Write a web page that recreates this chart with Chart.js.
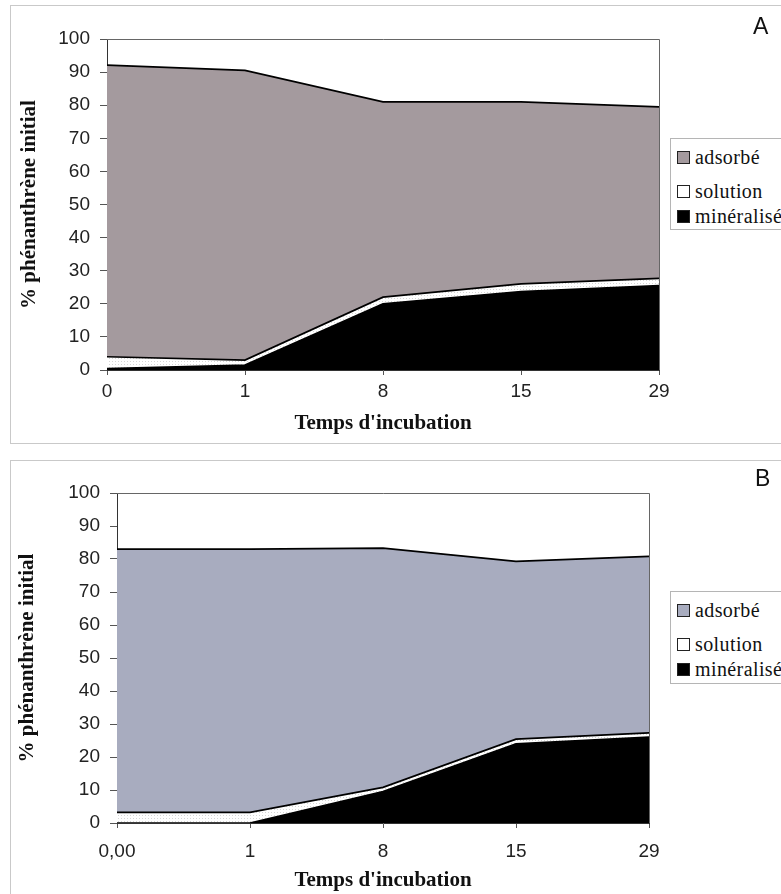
<!DOCTYPE html>
<html lang="fr"><head><meta charset="utf-8">
<script src="https://cdn.jsdelivr.net/npm/chart.js@4"></script>
<style>
body{margin:0;width:781px;height:894px;position:relative;background:#fff;overflow:hidden;}
.frame{position:absolute;border:1px solid #c9c9c9;}
.cv{position:absolute;left:0;}
.legend{position:absolute;border:1px solid #b5b5b5;background:#fff;font-family:"Liberation Serif",serif;font-size:20px;color:#111;letter-spacing:0.4px;}
.item{position:absolute;left:6px;white-space:nowrap;line-height:22px;font-family:"Liberation Serif",serif;}
.mk{display:inline-block;width:11px;height:11px;border:1px solid #222;margin-right:5px;vertical-align:baseline;}
.tag{position:absolute;font-family:"Liberation Sans",Arial,sans-serif;font-size:23px;line-height:1;color:#111;}
</style>
</head><body>
<div class="frame" style="left:10px;top:5px;width:800px;height:437px;"></div>
<div class="frame" style="left:10px;top:460px;width:800px;height:500px;"></div>
<div class="cv" style="top:0;width:781px;height:445px;"><canvas id="cA"></canvas></div>
<div class="cv" style="top:445px;width:781px;height:449px;"><canvas id="cB"></canvas></div>
<div class="tag" style="left:753px;top:15px;">A</div>
<div class="tag" style="left:755px;top:467px;">B</div>
<div class="legend" id="legA" style="left:670px;top:138px;width:130px;height:90px;"></div>
<div class="legend" id="legB" style="left:670px;top:591px;width:130px;height:91px;"></div>
<script>
// Panel A data
const categoriesA = ['0', '1', '8', '15', '29'];
const mineraliseA = [0.4, 1.5, 20, 23.7, 25.5];
const solutionA   = [3.6, 1.5, 2, 2.3, 2.2];
const adsorbeA    = [88.1, 87.5, 59, 55, 51.8];

// Panel B data
const categoriesB = ['0,00', '1', '8', '15', '29'];
const mineraliseB = [0, 0, 9.5, 24, 26];
const solutionB   = [3.2, 3.2, 1.3, 1.4, 1.3];
const adsorbeB    = [79.8, 79.8, 72.5, 53.9, 53.5];

const yTicks = [0, 10, 20, 30, 40, 50, 60, 70, 80, 90, 100];
const seriesNames = ['min\u00e9ralis\u00e9', 'solution', 'adsorb\u00e9'];
const xTitle = "Temps d'incubation";
const yTitle = '% ph\u00e9nanthr\u00e8ne initial';

const colMineral = '#000000';
const colSolution = '#ffffff';
const colAdsA = '#a49a9e';
const colAdsB = '#a8acbf';

function dotPattern() {
  const c = document.createElement('canvas');
  c.width = 3; c.height = 3;
  const x = c.getContext('2d');
  x.fillStyle = '#ffffff'; x.fillRect(0, 0, 3, 3);
  x.fillStyle = '#d6d6d6'; x.fillRect(1, 1, 1, 1);
  return x.createPattern(c, 'repeat');
}

const frameBox = {
  id: 'frameBox',
  afterDatasetsDraw(chart) {
    const a = chart.chartArea, ctx = chart.ctx;
    ctx.save();
    ctx.strokeStyle = '#666';
    ctx.lineWidth = 1;
    ctx.beginPath();
    ctx.moveTo(a.left, a.top + 0.5);
    ctx.lineTo(a.right + 0.5, a.top + 0.5);
    ctx.lineTo(a.right + 0.5, a.bottom);
    ctx.stroke();
    ctx.restore();
  }
};

function makeChart(id, cats, mineral, solution, adsorbe, adsColor, g) {
  const ds = [
    {label: seriesNames[0], data: mineral, backgroundColor: colMineral, legendColor: colMineral, fill: 'origin'},
    {label: seriesNames[1], data: solution, backgroundColor: dotPattern(), legendColor: colSolution, fill: '-1'},
    {label: seriesNames[2], data: adsorbe, backgroundColor: adsColor, legendColor: adsColor, fill: '-1'}
  ].map(d => Object.assign(d, {borderColor: '#000', borderWidth: 1.7, pointRadius: 0, tension: 0}));
  return new Chart(document.getElementById(id), {
    type: 'line',
    data: {labels: cats, datasets: ds},
    options: {
      responsive: true, maintainAspectRatio: false, animation: false,
      events: [],
      layout: {padding: {top: g.top, right: g.right, left: 0, bottom: 0}},
      plugins: {legend: {display: false}, tooltip: {enabled: false}},
      scales: {
        x: {
          type: 'category', offset: false,
          grid: {display: true, drawOnChartArea: false, drawTicks: true, tickLength: 5, tickColor: '#555'},
          border: {display: true, color: '#333', width: 1},
          ticks: {font: {family: 'Liberation Sans', size: 19}, color: '#222', padding: g.xpad, autoSkip: false, maxRotation: 0},
          title: {display: true, text: xTitle, color: '#111', font: {family: 'Liberation Serif', size: 21, weight: 'bold'}, padding: {top: 0, bottom: g.xtpad}},
          afterFit: s => { s.height = g.xh; }
        },
        y: {
          stacked: true, min: 0, max: 100,
          afterBuildTicks: s => { s.ticks = yTicks.map(v => ({value: v})); },
          grid: {display: true, drawOnChartArea: false, drawTicks: true, tickLength: 7, tickColor: '#555'},
          border: {display: true, color: '#333', width: 1},
          ticks: {font: {family: 'Liberation Sans', size: 19}, color: '#222', padding: 10},
          title: {display: true, text: yTitle, color: '#111', font: {family: 'Liberation Serif', size: 21, weight: 'bold'}, padding: {top: g.ytpad, bottom: 0}},
          afterFit: s => { s.width = g.yw; }
        }
      }
    },
    plugins: [frameBox]
  });
}

const chartA = makeChart('cA', categoriesA, mineraliseA, solutionA, adsorbeA, colAdsA,
  {top: 39, right: 122, xh: 75, yw: 107, xpad: 5, xtpad: 9, ytpad: 17});
const chartB = makeChart('cB', categoriesB, mineraliseB, solutionB, adsorbeB, colAdsB,
  {top: 48, right: 132, xh: 71, yw: 117, xpad: 12, xtpad: 1, ytpad: 15});

function buildLegend(elId, chart) {
  const el = document.getElementById(elId);
  const tops = [7, 41, 66];
  const sets = chart.data.datasets.slice().reverse();
  sets.forEach((d, i) => {
    const it = document.createElement('div');
    it.className = 'item';
    it.style.top = tops[i] + 'px';
    const mk = document.createElement('span');
    mk.className = 'mk';
    mk.style.background = d.legendColor;
    it.appendChild(mk);
    const tx = document.createElement('span');
    tx.textContent = d.label.normalize('NFC');
    it.appendChild(tx);
    el.appendChild(it);
  });
}
buildLegend('legA', chartA);
buildLegend('legB', chartB);
</script>
</body></html>
